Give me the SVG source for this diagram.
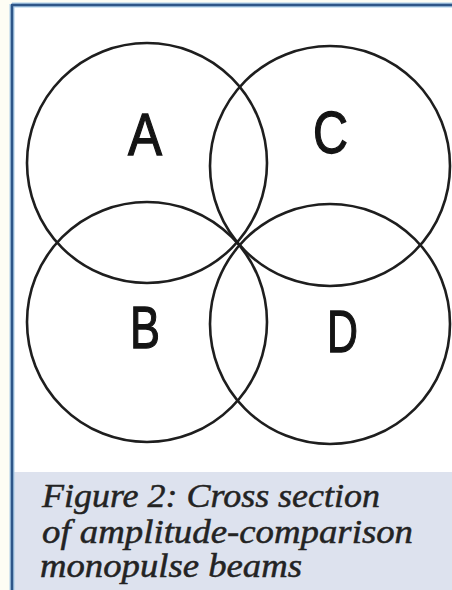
<svg xmlns="http://www.w3.org/2000/svg" width="452" height="590" viewBox="0 0 452 590">
<style>
.beam{fill:none;stroke:#1e1e1e;stroke-width:2.6}
.lbl{font-family:"Liberation Sans",Arial,sans-serif;font-size:60px;fill:#141414;stroke:#141414;stroke-width:1.3}
.cap{font-family:"Liberation Serif","Times New Roman",serif;font-style:italic;font-size:34px;fill:#232323;stroke:#232323;stroke-width:0.5}
</style>
<rect x="0" y="0" width="452" height="590" fill="#fdfdf4"/>
<rect x="12" y="5" width="440" height="585" fill="#ffffff"/>
<rect x="13" y="472" width="439" height="118" fill="#dde2ee"/>
<line x1="12" y1="4" x2="12" y2="590" stroke="#aacbe6" stroke-width="5"/>
<line x1="12" y1="5" x2="452" y2="5" stroke="#aacbe6" stroke-width="5"/>
<line x1="12" y1="5" x2="12" y2="590" stroke="#2e5688" stroke-width="2.5"/>
<line x1="11" y1="5" x2="452" y2="5" stroke="#2e5688" stroke-width="2.5"/>
<g id="beamA"><circle class="beam" cx="147" cy="163" r="120"/><text class="lbl" x="128" y="155" textLength="34" lengthAdjust="spacingAndGlyphs">A</text></g>
<g id="beamB"><circle class="beam" cx="147" cy="322" r="120"/><text class="lbl" x="130" y="348" textLength="30" lengthAdjust="spacingAndGlyphs">B</text></g>
<g id="beamC"><circle class="beam" cx="330" cy="166" r="120"/><text class="lbl" x="313" y="153" textLength="35" lengthAdjust="spacingAndGlyphs">C</text></g>
<g id="beamD"><circle class="beam" cx="330" cy="324" r="120"/><text class="lbl" x="327" y="352" textLength="31" lengthAdjust="spacingAndGlyphs">D</text></g>
<g id="connectors"></g>
<g id="caption">
<text class="cap" x="42" y="507" textLength="338" lengthAdjust="spacingAndGlyphs">Figure 2: Cross section</text>
<text class="cap" x="42" y="543" textLength="371" lengthAdjust="spacingAndGlyphs">of amplitude-comparison</text>
<text class="cap" x="40" y="577" textLength="262" lengthAdjust="spacingAndGlyphs">monopulse beams</text>
</g>
</svg>
